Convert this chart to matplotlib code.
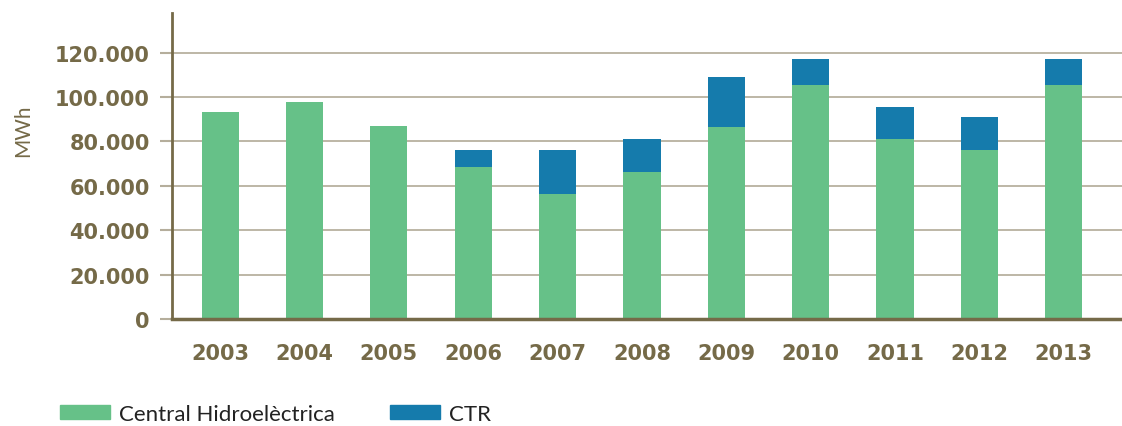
import matplotlib
matplotlib.use('Agg')
import matplotlib.pyplot as plt
from matplotlib.patches import Patch
import numpy as np

years = ['2003', '2004', '2005', '2006', '2007', '2008', '2009', '2010', '2011', '2012', '2013']
hidro = [93100, 97600, 86900, 68500, 56300, 66200, 86500, 105400, 81100, 76100, 105400]
ctr = [0, 0, 0, 7600, 19800, 14900, 22500, 11700, 14400, 14900, 11700]
yticks = [0, 20000, 40000, 60000, 80000, 100000, 120000]
ytick_labels = ['0', '20.000', '40.000', '60.000', '80.000', '100.000', '120.000']

green = '#66c188'
blue = '#157bac'
brown = '#756a48'

plt.rcParams['font.family'] = ['Lato', 'DejaVu Sans']

fig = plt.figure(figsize=(11.22, 4.27), dpi=100)
ax = fig.add_axes([0.1533, 0.2506, 0.8467, 0.7164])

x = np.arange(len(years))
ax.bar(x, hidro, width=0.44, color=green, zorder=3)
ax.bar(x, ctr, width=0.44, bottom=hidro, color=blue, zorder=3)

ax.set_xlim(-0.57, 10.69)
ax.set_ylim(0, 137800)

# etiquetas de los ejes en negrita ancha
ax.set_yticks(yticks)
ax.set_yticklabels(ytick_labels, fontsize=15, fontweight='bold', color=brown,
                   family='DejaVu Sans')
ax.set_xticks(x)
ax.set_xticklabels(years, fontsize=15, fontweight='bold', color=brown,
                   family='DejaVu Sans')

ax.tick_params(axis='y', length=9, width=1.5, color='#b5ae9c', pad=7)
ax.tick_params(axis='x', length=0, pad=17)

ax.grid(axis='y', color='#a69e88', linewidth=1.3)
for ln in ax.get_ygridlines():
    ln.set_zorder(4)
    ln.set_alpha(0.8)

for s in ['top', 'right']:
    ax.spines[s].set_visible(False)
ax.spines['left'].set_color(brown)
ax.spines['left'].set_linewidth(2)
ax.spines['bottom'].set_color(brown)
ax.spines['bottom'].set_linewidth(2.5)
ax.spines['left'].set_zorder(5)
ax.spines['bottom'].set_zorder(5)

fig.text(0.021, 0.693, 'MWh', rotation=90, fontsize=15, color=brown,
         ha='center', va='center')

handles = [Patch(color=green, label='Central Hidroelèctrica'),
           Patch(color=blue, label='CTR')]
fig.legend(handles=handles, loc='center left', bbox_to_anchor=(0.0535, 0.028),
           ncol=2, frameon=False, fontsize=16, handlelength=2.25, handleheight=0.6,
           handletextpad=0.4, columnspacing=2.5, borderpad=0, borderaxespad=0,
           labelcolor='#222222')

plt.savefig('out.png', dpi=100)
plt.close()
